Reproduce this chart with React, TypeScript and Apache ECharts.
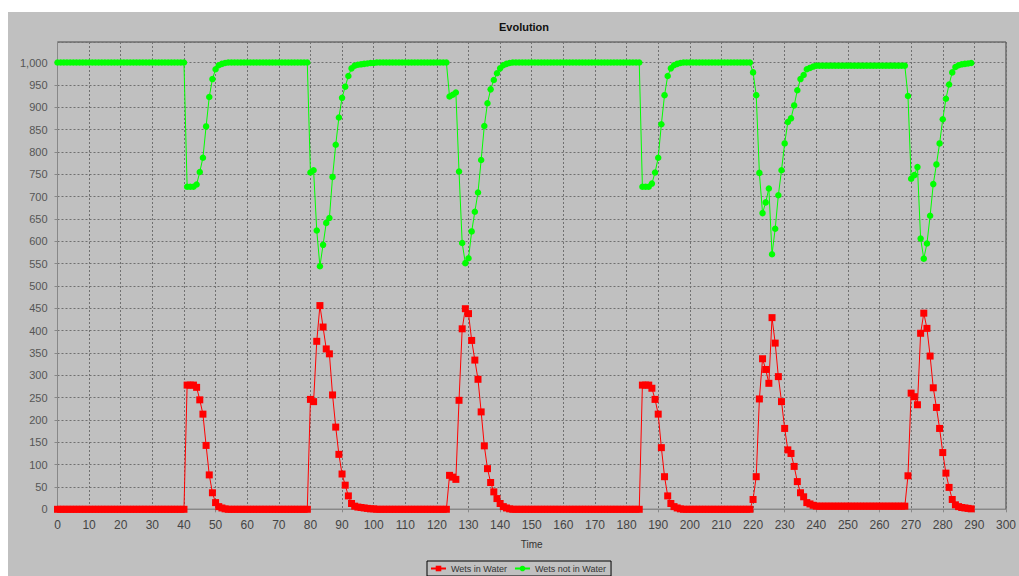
import React, { useEffect, useRef } from "react";
import * as echarts from "echarts";

// Time runs 0..289 (index = time step)
const wetsInWater: number[] = [
  // 0-40
  0,0,0,0,0,0,0,0,0,0, 0,0,0,0,0,0,0,0,0,0, 0,0,0,0,0,0,0,0,0,0, 0,0,0,0,0,0,0,0,0,0, 0,
  // 41-53
  278,278,278,273,245,213,143,77,37,15,6,3,1,
  // 54-79
  0,0,0,0,0,0,0,0,0,0,0,0,0,0,0,0,0,0,0,0,0,0,0,0,0,0,
  // 80-100
  246,241,376,456,408,359,348,256,184,123,79,54,30,13,7,5,4,3,2,1,1,
  // 101-123
  0,0,0,0,0,0,0,0,0,0,0,0,0,0,0,0,0,0,0,0,0,0,0,
  // 124-143
  76,72,67,244,404,449,438,378,334,291,218,142,91,60,39,24,13,6,3,1,
  // 144-184
  0,0,0,0,0,0,0,0,0,0, 0,0,0,0,0,0,0,0,0,0, 0,0,0,0,0,0,0,0,0,0, 0,0,0,0,0,0,0,0,0,0, 0,
  // 185-197
  278,278,278,271,246,213,138,73,30,13,6,3,1,
  // 198-219
  0,0,0,0,0,0,0,0,0,0,0,0,0,0,0,0,0,0,0,0,0,0,
  // 220-239
  22,73,247,337,313,282,429,372,297,241,181,133,125,96,62,37,28,15,12,9,
  // 240-268
  7,7,7,7,7,7,7,7,7,7, 7,7,7,7,7,7,7,7,7,7, 7,7,7,7,7,7,7,7,7,
  // 269-289
  75,260,252,234,394,439,405,343,272,228,181,127,81,49,22,10,6,4,3,2,1,
];

const wetsNotInWater: number[] = [
  // 0-40
  1000,1000,1000,1000,1000,1000,1000,1000,1000,1000, 1000,1000,1000,1000,1000,1000,1000,1000,1000,1000,
  1000,1000,1000,1000,1000,1000,1000,1000,1000,1000, 1000,1000,1000,1000,1000,1000,1000,1000,1000,1000, 1000,
  // 41-53
  722,722,722,727,755,787,857,923,963,985,994,997,999,
  // 54-79
  1000,1000,1000,1000,1000,1000,1000,1000,1000,1000,1000,1000,1000,1000,1000,1000,1000,1000,1000,1000,1000,1000,1000,1000,1000,1000,
  // 80-100
  754,759,624,544,592,641,652,744,816,877,921,946,970,987,993,995,996,997,998,999,999,
  // 101-123
  1000,1000,1000,1000,1000,1000,1000,1000,1000,1000,1000,1000,1000,1000,1000,1000,1000,1000,1000,1000,1000,1000,1000,
  // 124-143
  924,928,933,756,596,551,562,622,666,709,782,858,909,940,961,976,987,994,997,999,
  // 144-184
  1000,1000,1000,1000,1000,1000,1000,1000,1000,1000, 1000,1000,1000,1000,1000,1000,1000,1000,1000,1000,
  1000,1000,1000,1000,1000,1000,1000,1000,1000,1000, 1000,1000,1000,1000,1000,1000,1000,1000,1000,1000, 1000,
  // 185-197
  722,722,722,729,754,787,862,927,970,987,994,997,999,
  // 198-219
  1000,1000,1000,1000,1000,1000,1000,1000,1000,1000,1000,1000,1000,1000,1000,1000,1000,1000,1000,1000,1000,1000,
  // 220-239
  978,927,753,663,687,718,571,628,703,759,819,867,875,904,938,963,972,985,988,991,
  // 240-268
  993,993,993,993,993,993,993,993,993,993, 993,993,993,993,993,993,993,993,993,993, 993,993,993,993,993,993,993,993,993,
  // 269-289
  925,740,748,766,606,561,595,657,728,772,819,873,919,951,978,990,994,996,997,998,999,
];

const seriesNames = ["Wets in Water", "Wets not in Water"];
const chartTitle = "Evolution";
const xAxisName = "Time";

const FONT = "'Liberation Sans', Arial, sans-serif";

export default function App() {
  const ref = useRef<HTMLDivElement>(null);
  useEffect(() => {
    if (!ref.current) return;
    const chart = echarts.init(ref.current, null, { renderer: "svg", width: 1011, height: 564 });
    const toPairs = (arr: number[]) => arr.map((v, i) => [i, v]);
    chart.setOption({
      animation: false,
      backgroundColor: "#c0c0c0",
      textStyle: { fontFamily: FONT },
      title: {
        text: chartTitle,
        left: 511,
        top: 4,
        textAlign: "center",
        textStyle: { fontSize: 11, fontWeight: "bold", color: "#111", fontFamily: FONT },
      },
      grid: {
        left: 49.5,
        right: 8,
        top: 30,
        bottom: 66.7,
        show: true,
        borderColor: "#444",
        borderWidth: 1,
        backgroundColor: "transparent",
      },
      legend: {
        left: 419,
        top: 549,
        padding: [3, 5, 3, 3],
        borderColor: "#000",
        borderWidth: 1,
        itemGap: 7,
        itemWidth: 15,
        itemHeight: 7,
        textStyle: { fontSize: 9, color: "#333", fontFamily: FONT },
        data: seriesNames,
      },
      xAxis: {
        type: "value",
        min: 0,
        max: 300,
        interval: 10,
        offset: 5,
        name: xAxisName,
        nameLocation: "middle",
        nameGap: 25,
        nameTextStyle: { fontSize: 10, color: "#333", fontFamily: FONT },
        axisLine: { show: true, lineStyle: { color: "#888" } },
        axisTick: { show: true, length: 3, lineStyle: { color: "#888" } },
        axisLabel: { fontSize: 12, color: "#444", margin: 5, fontFamily: FONT },
        splitLine: { show: true, lineStyle: { color: "#707070", type: [2, 2], width: 1 } },
      },
      yAxis: {
        type: "value",
        min: 0,
        max: 1046,
        interval: 50,
        offset: 4,
        axisLine: { show: true, lineStyle: { color: "#888" } },
        axisTick: { show: true, length: 3, lineStyle: { color: "#888" } },
        axisLabel: {
          fontSize: 11,
          color: "#555",
          margin: 6,
          fontFamily: FONT,
          showMaxLabel: false,
          formatter: (v: number) => (v % 50 === 0 ? v.toLocaleString("en-US") : ""),
        },
        splitLine: { show: true, lineStyle: { color: "#707070", type: [2, 2], width: 1 } },
      },
      series: [
        {
          name: seriesNames[0],
          type: "line",
          data: toPairs(wetsInWater),
          symbol: "rect",
          symbolSize: 7,
          showAllSymbol: true,
          itemStyle: { color: "#ff0000" },
          lineStyle: { color: "#ff0000", width: 1 },
          z: 3,
        },
        {
          name: seriesNames[1],
          type: "line",
          data: toPairs(wetsNotInWater),
          symbol: "circle",
          symbolSize: 6.5,
          showAllSymbol: true,
          itemStyle: { color: "#00ff00" },
          lineStyle: { color: "#00ff00", width: 1 },
          z: 3,
        },
      ],
    });
    return () => chart.dispose();
  }, []);
  return (
    <div
      ref={ref}
      style={{ position: "fixed", left: 8, top: 12, width: 1011, height: 564, overflow: "hidden" }}
    />
  );
}
